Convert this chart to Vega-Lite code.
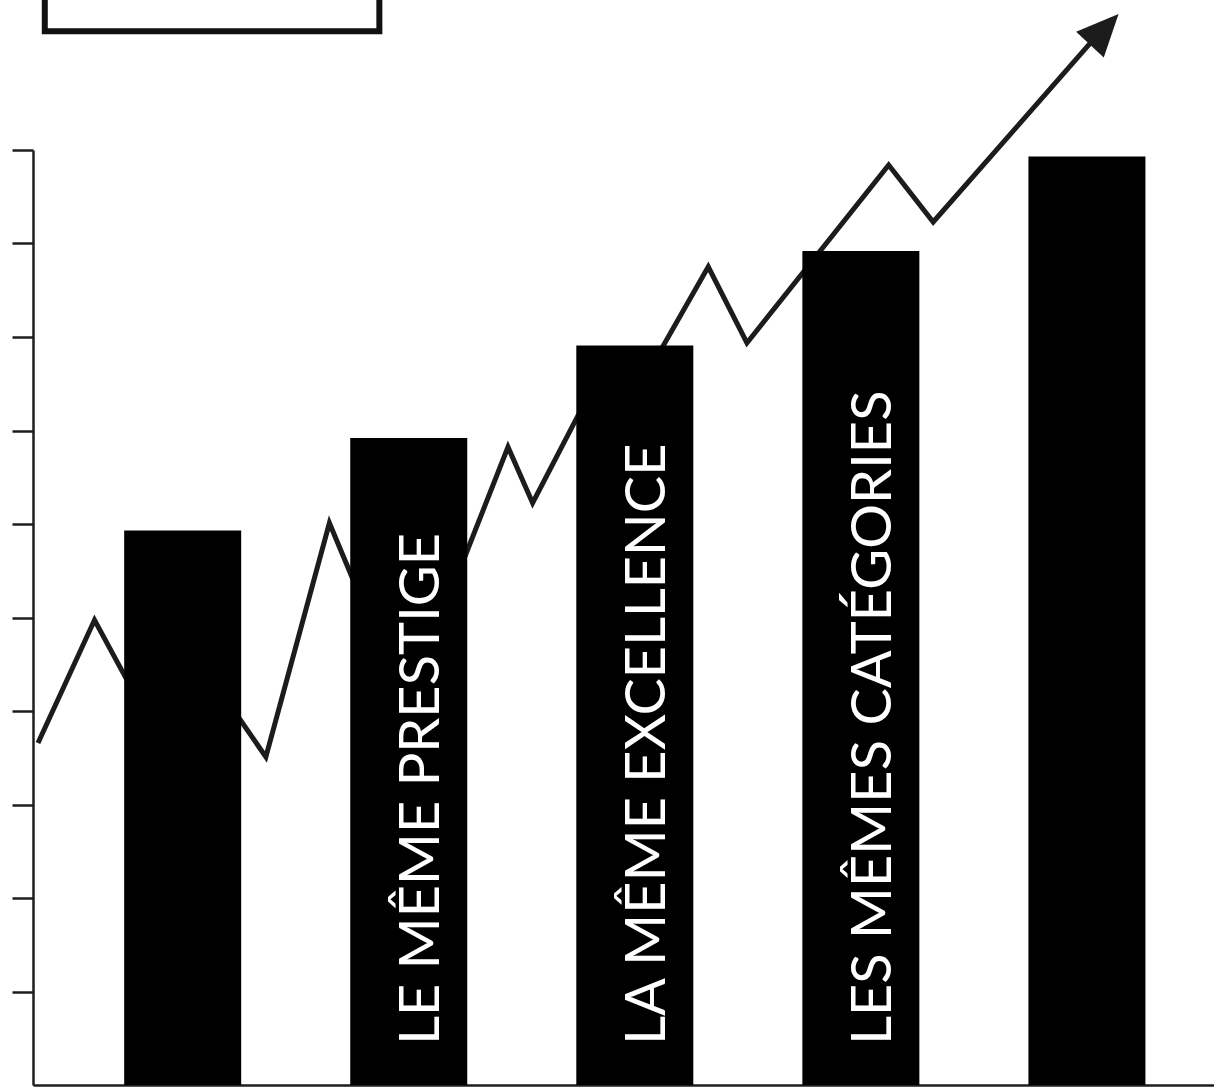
{
  "$schema": "https://vega.github.io/schema/vega-lite/v6.json",
  "width": 1181,
  "height": 935,
  "autosize": {"type": "none"},
  "padding": {"left": 33, "top": 150, "right": 0, "bottom": 6},
  "background": "white",
  "config": {"view": {"stroke": null}},
  "datasets": {
    "bars": [
      {"pos": 1, "value": 5.93},
      {"pos": 2, "value": 6.92},
      {"pos": 3, "value": 7.91},
      {"pos": 4, "value": 8.92},
      {"pos": 5, "value": 9.93}
    ],
    "trend": [
      {"pos": 0.36, "value": 3.658},
      {"pos": 0.61, "value": 4.973},
      {"pos": 0.763, "value": 4.289},
      {"pos": 1.237, "value": 3.968},
      {"pos": 1.368, "value": 3.508},
      {"pos": 1.649, "value": 6.011},
      {"pos": 1.759, "value": 5.374},
      {"pos": 2.246, "value": 5.636},
      {"pos": 2.439, "value": 6.824},
      {"pos": 2.548, "value": 6.225},
      {"pos": 2.768, "value": 7.25},
      {"pos": 3.11, "value": 7.84},
      {"pos": 3.325, "value": 8.75},
      {"pos": 3.496, "value": 7.936},
      {"pos": 4.123, "value": 9.84},
      {"pos": 4.32, "value": 9.23},
      {"pos": 5.039, "value": 11.209}
    ],
    "arrow": [{"pos": 5.14, "value": 11.455}],
    "labels": [
      {"pos": 2, "label": "LE MÊME PRESTIGE"},
      {"pos": 3, "label": "LA MÊME EXCELLENCE"},
      {"pos": 4, "label": "LES MÊMES CATÉGORIES"}
    ],
    "frame": [{"x0": 0.39, "x1": 1.87, "y0": 11.27, "y1": 12.3}]
  },
  "layer": [
    {
      "data": {"name": "trend"},
      "mark": {"type": "line", "color": "#1c1c1c", "strokeWidth": 5, "strokeJoin": "miter", "strokeMiterLimit": 10},
      "encoding": {
        "x": {
          "field": "pos", "type": "quantitative",
          "scale": {"domain": [0.36, 5.54], "nice": false, "zero": false},
          "axis": {"domain": true, "domainColor": "#1e1e1e", "domainWidth": 2.5, "ticks": false, "labels": false, "grid": false, "title": null}
        },
        "y": {
          "field": "value", "type": "quantitative",
          "scale": {"domain": [0, 10], "nice": false, "zero": true},
          "axis": {"domain": true, "domainColor": "#1e1e1e", "domainWidth": 2.5, "values": [1, 2, 3, 4, 5, 6, 7, 8, 9, 10], "tickSize": 21, "tickWidth": 2.5, "tickColor": "#1e1e1e", "labels": false, "grid": false, "title": null}
        }
      }
    },
    {
      "data": {"name": "bars"},
      "mark": {"type": "bar", "color": "#000000", "width": 117, "orient": "vertical"},
      "encoding": {
        "x": {"field": "pos", "type": "quantitative"},
        "y": {"field": "value", "type": "quantitative"}
      }
    },
    {
      "data": {"name": "arrow"},
      "mark": {"type": "point", "shape": "M0,0L0.9,2L-0.9,2Z", "size": 1764, "angle": 43, "filled": true, "color": "#1c1c1c", "opacity": 1},
      "encoding": {
        "x": {"field": "pos", "type": "quantitative"},
        "y": {"field": "value", "type": "quantitative"}
      }
    },
    {
      "data": {"name": "labels"},
      "mark": {"type": "text", "angle": 270, "align": "left", "baseline": "alphabetic", "dy": 30, "font": "Lato", "fontSize": 56, "color": "#ffffff"},
      "encoding": {
        "x": {"field": "pos", "type": "quantitative"},
        "y": {"datum": 0.43},
        "text": {"field": "label"}
      }
    },
    {
      "data": {"name": "frame"},
      "mark": {"type": "rect", "filled": false, "stroke": "#111111", "strokeWidth": 6},
      "encoding": {
        "x": {"field": "x0", "type": "quantitative"},
        "x2": {"field": "x1"},
        "y": {"field": "y0", "type": "quantitative"},
        "y2": {"field": "y1"}
      }
    }
  ]
}
